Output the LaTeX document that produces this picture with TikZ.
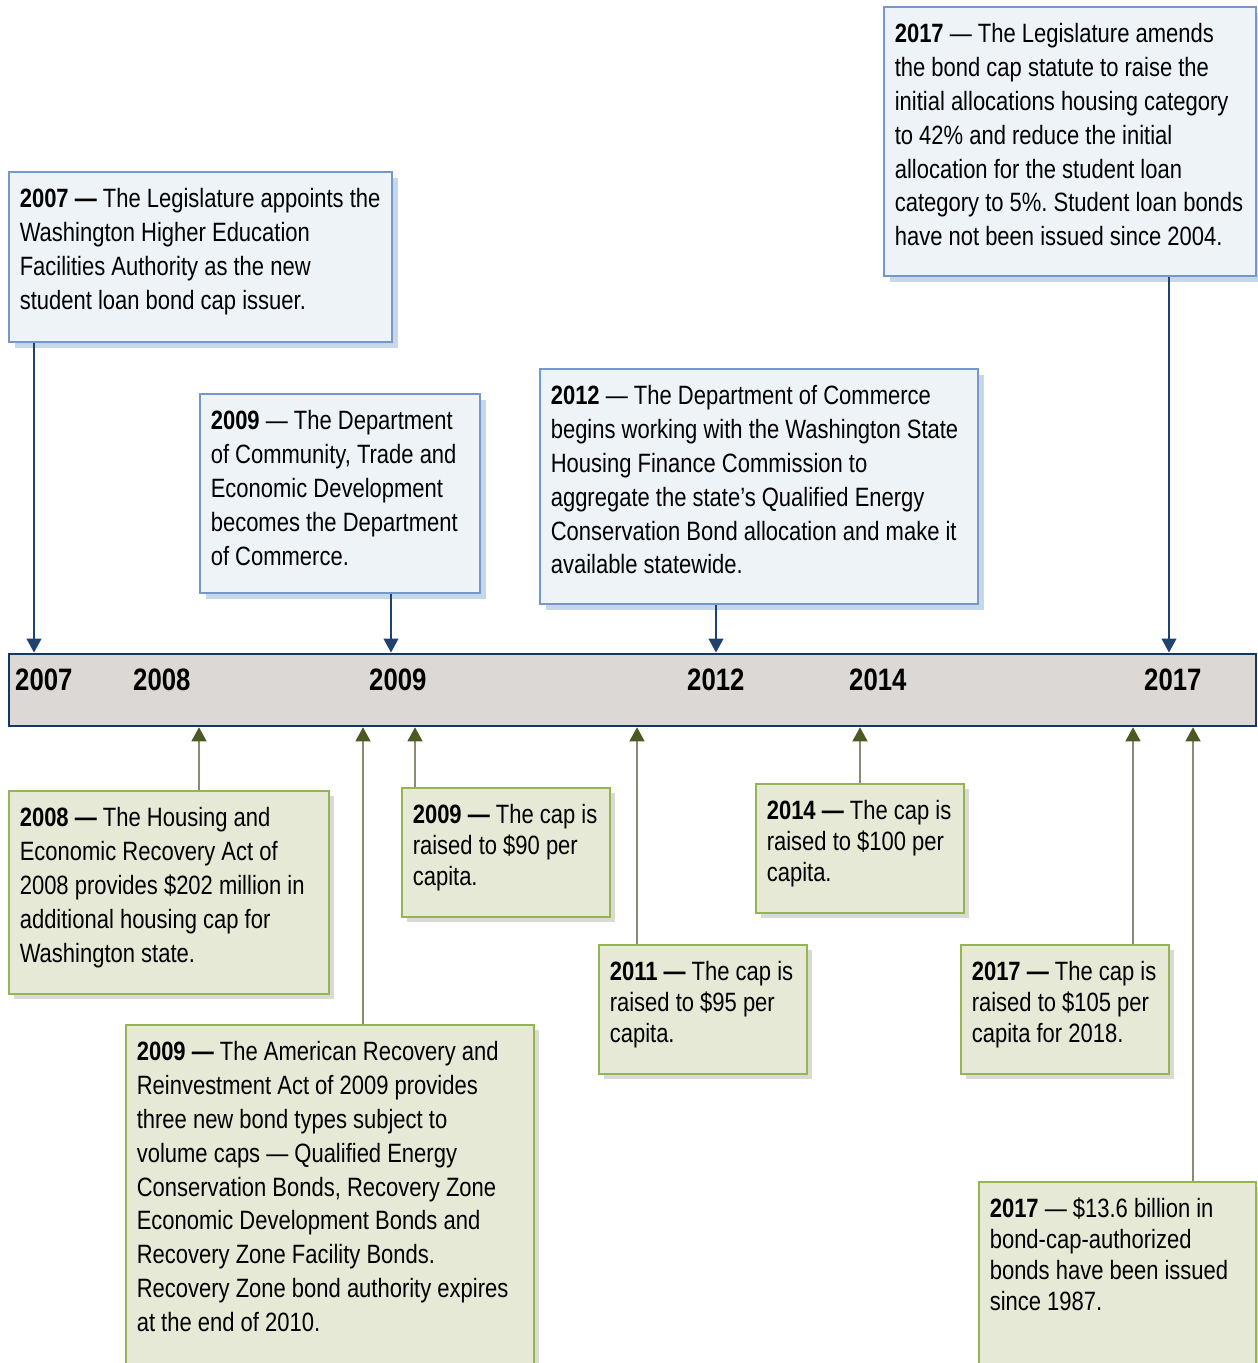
\documentclass[tikz,border=0pt]{standalone}
\usepackage{fontspec}
\setmainfont{Liberation Sans}[FakeStretch=0.83]
\usepackage{xcolor}
\usepackage{tikz}
\usetikzlibrary{arrows.meta}
\usetikzlibrary{shadows}
\usetikzlibrary{calc}

\definecolor{barfill}{HTML}{DCD8D6}
\definecolor{barline}{HTML}{17375E}
\definecolor{bluefill}{HTML}{EEF3F8}
\definecolor{blueline}{HTML}{7398C9}
\definecolor{blueshade}{HTML}{C6D8E8}
\definecolor{bluearrow}{HTML}{1F426F}
\definecolor{greenfill}{HTML}{E6E9D5}
\definecolor{greenline}{HTML}{95B552}
\definecolor{greenshade}{HTML}{D9D9D6}
\definecolor{greenstem}{HTML}{8A8B70}
\definecolor{greenhead}{HTML}{4B5A22}

% narrow word spaces for the squeezed face
\newcommand{\evtfont}[1]{\fontsize{26.5}{#1}\selectfont
    {\bfseries\fontdimen2\font=6.1pt}\fontdimen2\font=6.1pt\frenchspacing}

\begin{document}
\begin{tikzpicture}
    [%%%%%%%%%%%%%%%%%%%%%%%%%%%%%%
        x=1pt,y=-1pt,
        evt/.style={rectangle,anchor=north west,align=flush left,
            inner xsep=11pt,inner ysep=12pt,text height=24pt,
            font=\evtfont{33.8}},
        smallevt/.style={evt,font=\evtfont{31}},
        bluebox/.style={evt,fill=bluefill,draw=blueline,line width=1.6pt,
            drop shadow={shadow xshift=6pt,shadow yshift=-6pt,fill=blueshade,opacity=1}},
        greenbox/.style={fill=greenfill,draw=greenline,line width=1.6pt,
            drop shadow={shadow xshift=5pt,shadow yshift=-5pt,fill=greenshade,opacity=1}},
        yearlbl/.style={anchor=west,inner sep=0pt,font=\fontsize{31}{31}\selectfont\bfseries},
        bluearr/.style={draw=bluearrow,line width=1.3pt,-{Triangle[width=15pt,length=14pt]}},
        greenarr/.style={draw=greenstem,line width=1.3pt,-{Triangle[width=15pt,length=14pt,color=greenhead]}}
    ]%%%%%%%%%%%%%%%%%%%%%%%%%%%%%%
\useasboundingbox (0,0) rectangle (1258,1363);

% time line
\node[rectangle,anchor=north west,fill=barfill,draw=barline,line width=2.8pt,
    minimum width=1247pt,minimum height=72pt] (axis) at (7.5,652.5) {};

\node[yearlbl] (t07) at (15,680) {2007};
\node[yearlbl] (t08) at (133,680) {2008};
\node[yearlbl] (t09) at (369,680) {2009};
\node[yearlbl] (t12) at (687,680) {2012};
\node[yearlbl] (t14) at (849,680) {2014};
\node[yearlbl] (t17) at (1144,680) {2017};

% above the line
\node[bluebox,text width=361pt,text depth=122pt] (b07) at (8,171)
    {\textbf{2007 —} The Legislature appoints the\\
     Washington Higher Education\\
     Facilities Authority as the new\\
     student loan bond cap issuer.};

\node[bluebox,text width=258pt,text depth=151pt] (b09) at (199,393)
    {\textbf{2009} — The Department\\
     of Community, Trade and\\
     Economic Development\\
     becomes the Department\\
     of Commerce.};

\node[bluebox,text width=416pt,text depth=187pt] (b12) at (539,368)
    {\textbf{2012} — The Department of Commerce\\
     begins working with the Washington State\\
     Housing Finance Commission to\\
     aggregate the state’s Qualified Energy\\
     Conservation Bond allocation and make it\\
     available statewide.};

\node[bluebox,text width=350pt,text depth=221pt] (b17) at (883,6)
    {\textbf{2017} — The Legislature amends\\
     the bond cap statute to raise the\\
     initial allocations housing category\\
     to 42\% and reduce the initial\\
     allocation for the student loan\\
     category to 5\%. Student loan bonds\\
     have not been issued since 2004.};

% below the line
\node[evt,greenbox,text width=298pt,text depth=155pt] (g08) at (8,790)
    {\textbf{2008 —} The Housing and\\
     Economic Recovery Act of\\
     2008 provides \$202 million in\\
     additional housing cap for\\
     Washington state.};

\node[evt,greenbox,text width=386pt,text depth=300pt] (g09a) at (125,1024)
    {\textbf{2009 —} The American Recovery and\\
     Reinvestment Act of 2009 provides\\
     three new bond types subject to\\
     volume caps — Qualified Energy\\
     Conservation Bonds, Recovery Zone\\
     Economic Development Bonds and\\
     Recovery Zone Facility Bonds.\\
     Recovery Zone bond authority expires\\
     at the end of 2010.};

\node[smallevt,greenbox,text width=186pt,text depth=81pt] (g09b) at (401,787)
    {\textbf{2009 —} The cap is\\
     raised to \$90 per\\
     capita.};

\node[smallevt,greenbox,text width=186pt,text depth=81pt] (g11) at (598,944)
    {\textbf{2011 —} The cap is\\
     raised to \$95 per\\
     capita.};

\node[smallevt,greenbox,text width=186pt,text depth=81pt] (g14) at (755,783)
    {\textbf{2014 —} The cap is\\
     raised to \$100 per\\
     capita.};

\node[smallevt,greenbox,text width=186pt,text depth=81pt] (g17a) at (960,944)
    {\textbf{2017 —} The cap is\\
     raised to \$105 per\\
     capita for 2018.};

\node[smallevt,greenbox,text width=255pt,text depth=143pt] (g17b) at (978,1181)
    {\textbf{2017} — \$13.6 billion in\\
     bond-cap-authorized\\
     bonds have been issued\\
     since 1987.};

% arrows down
\coordinate (d07) at ($(b07.south west)+(26,0)$);
\coordinate (d09) at ($(b09.south west)+(192,0)$);
\coordinate (d12) at ($(b12.south west)+(177,0)$);
\coordinate (d17) at ($(b17.south west)+(286,0)$);
\foreach \p in {d07,d09,d12,d17}
    \draw[bluearr] (\p) -- (\p |- axis.north);

% arrows up
\coordinate (u08) at ($(g08.north west)+(191,0)$);
\coordinate (u09a) at ($(g09a.north west)+(238,0)$);
\coordinate (u09b) at ($(g09b.north west)+(14,0)$);
\coordinate (u11) at ($(g11.north west)+(39,0)$);
\coordinate (u14) at ($(g14.north west)+(105,0)$);
\coordinate (u17a) at ($(g17a.north west)+(173,0)$);
\coordinate (u17b) at ($(g17b.north west)+(215,0)$);
\foreach \p in {u08,u09a,u09b,u11,u14,u17a,u17b}
    \draw[greenarr] (\p) -- (\p |- axis.south);

\end{tikzpicture}
\end{document}
